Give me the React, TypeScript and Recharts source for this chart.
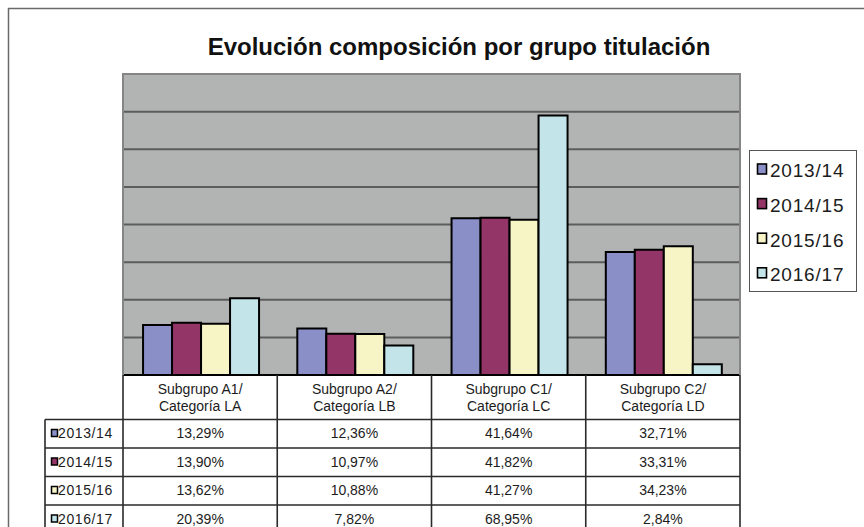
import React from 'react';
import { BarChart, Bar, XAxis, YAxis, CartesianGrid } from 'recharts';

const categoryLine1 = ['Subgrupo A1/', 'Subgrupo A2/', 'Subgrupo C1/', 'Subgrupo C2/'];
const categoryLine2 = ['Categoría LA', 'Categoría LB', 'Categoría LC', 'Categoría LD'];
const categories = ['A1', 'A2', 'C1', 'C2'];

const seriesNames = ['2013/14', '2014/15', '2015/16', '2016/17'];
const values201314 = [13.29, 12.36, 41.64, 32.71];
const values201415 = [13.9, 10.97, 41.82, 33.31];
const values201516 = [13.62, 10.88, 41.27, 34.23];
const values201617 = [20.39, 7.82, 68.95, 2.84];
const gridTicks = [10, 20, 30, 40, 50, 60, 70];
const yDomain = [0, 80];

const seriesValues = [values201314, values201415, values201516, values201617];
const seriesKeys = ['s0', 's1', 's2', 's3'];
const colors = ['#8a8fc8', '#933566', '#f7f5c6', '#c3e5ea'];

const data = categories.map((c, i) => {
  const row: any = { name: c };
  seriesKeys.forEach((k, s) => {
    row[k] = seriesValues[s][i];
  });
  return row;
});

const FONT = '"Liberation Sans", Arial, Helvetica, sans-serif';
const W = 864;
const H = 527;
const PL = 123;
const PT = 74;
const PR = 740;
const PB = 375;
const HEADER_H = 44;
const ROW_TOP = 419.5;
const ROW_H = 28.5;
const TEXT_COLOR = '#1c1c1c';
const LINE_COLOR = '#2a2a2a';

const fmt = (v: number) => v.toFixed(2).replace('.', ',') + '%';

function CategoryTick(props: any) {
  const { x, payload } = props;
  const i = categories.indexOf(payload.value);
  if (i < 0) return null;
  return (
    <g>
      <text x={x} y={PB + 18.7} textAnchor="middle" fontSize={14} fill={TEXT_COLOR} fontFamily={FONT}>
        {categoryLine1[i]}
      </text>
      <text x={x} y={PB + 36.3} textAnchor="middle" fontSize={14} fill={TEXT_COLOR} fontFamily={FONT}>
        {categoryLine2[i]}
      </text>
      {seriesValues.map((vals, r) => (
        <text
          key={r}
          x={x}
          y={ROW_TOP + r * ROW_H + 18.7}
          textAnchor="middle"
          fontSize={14}
          fill={TEXT_COLOR}
          fontFamily={FONT}
        >
          {fmt(vals[i])}
        </text>
      ))}
    </g>
  );
}

export default function App() {
  const colXs = [PL, PL + (PR - PL) / 4, PL + (PR - PL) / 2, PL + (3 * (PR - PL)) / 4, PR];
  return (
    <div style={{ position: 'absolute', left: 0, top: 0, width: W, height: H, background: '#fff', overflow: 'hidden' }}>
      <BarChart
        width={W}
        height={H}
        data={data}
        margin={{ top: PT, left: PL, right: W - PR, bottom: H - PB - HEADER_H }}
        barCategoryGap="13%"
        barGap={0}
      >
        <CartesianGrid vertical={false} fill="#b2b4b4" stroke="#5c5c5c" strokeWidth={2} />
        <YAxis hide domain={yDomain} ticks={gridTicks} allowDataOverflow />
        <XAxis
          dataKey="name"
          height={HEADER_H}
          interval={0}
          tickLine={false}
          tickSize={0}
          tickMargin={0}
          axisLine={{ stroke: '#000', strokeWidth: 2 }}
          tick={<CategoryTick />}
        />
        {seriesKeys.map((k, s) => (
          <Bar
            key={k}
            dataKey={k}
            name={seriesNames[s]}
            fill={colors[s]}
            stroke="#000"
            strokeWidth={2}
            isAnimationActive={false}
          />
        ))}
      </BarChart>
      <svg
        width={W}
        height={H}
        style={{ position: 'absolute', left: 0, top: 0, pointerEvents: 'none' }}
      >
        {/* outer frame */}
        <line x1={8} y1={8.5} x2={W} y2={8.5} stroke="#6a6a6a" strokeWidth={1.5} />
        <line x1={8.5} y1={8} x2={8.5} y2={H} stroke="#6a6a6a" strokeWidth={1.5} />
        {/* title */}
        <text x={459} y={55} textAnchor="middle" fontSize={24} fontWeight="bold" fill="#111" fontFamily={FONT}>
          Evolución composición por grupo titulación
        </text>
        {/* plot border */}
        <path d={`M${PL},${PB} L${PL},${PT} L${PR},${PT} L${PR},${PB}`} fill="none" stroke="#858585" strokeWidth={2} />
        {/* table lines */}
        {colXs.map((x, i) => (
          <line key={'v' + i} x1={x} y1={PB} x2={x} y2={H} stroke={LINE_COLOR} strokeWidth={1.6} />
        ))}
        <line x1={45} y1={ROW_TOP} x2={45} y2={H} stroke={LINE_COLOR} strokeWidth={1.6} />
        {[0, 1, 2, 3, 4].map((r) => (
          <line key={'h' + r} x1={45} y1={ROW_TOP + r * ROW_H} x2={PR} y2={ROW_TOP + r * ROW_H} stroke={LINE_COLOR} strokeWidth={1.6} />
        ))}
        {/* table legend column */}
        {seriesNames.map((n, r) => (
          <g key={'tl' + r}>
            <rect x={51.5} y={ROW_TOP + r * ROW_H + 10} width={6} height={7} fill={colors[r]} stroke="#000" strokeWidth={1.5} />
            <text x={58} y={ROW_TOP + r * ROW_H + 18.7} fontSize={14} letterSpacing={0.6} fill={TEXT_COLOR} fontFamily={FONT}>
              {n}
            </text>
          </g>
        ))}
        {/* legend */}
        <rect x={749.5} y={150.5} width={107} height={141} fill="#fff" stroke="#555" strokeWidth={1} />
        {seriesNames.map((n, r) => (
          <g key={'lg' + r}>
            <rect x={757.5} y={164 + r * 34.6} width={9} height={10} fill={colors[r]} stroke="#000" strokeWidth={1.6} />
            <text x={770} y={177.3 + r * 34.6} fontSize={19} letterSpacing={0.8} fill={TEXT_COLOR} fontFamily={FONT}>
              {n}
            </text>
          </g>
        ))}
      </svg>
    </div>
  );
}
